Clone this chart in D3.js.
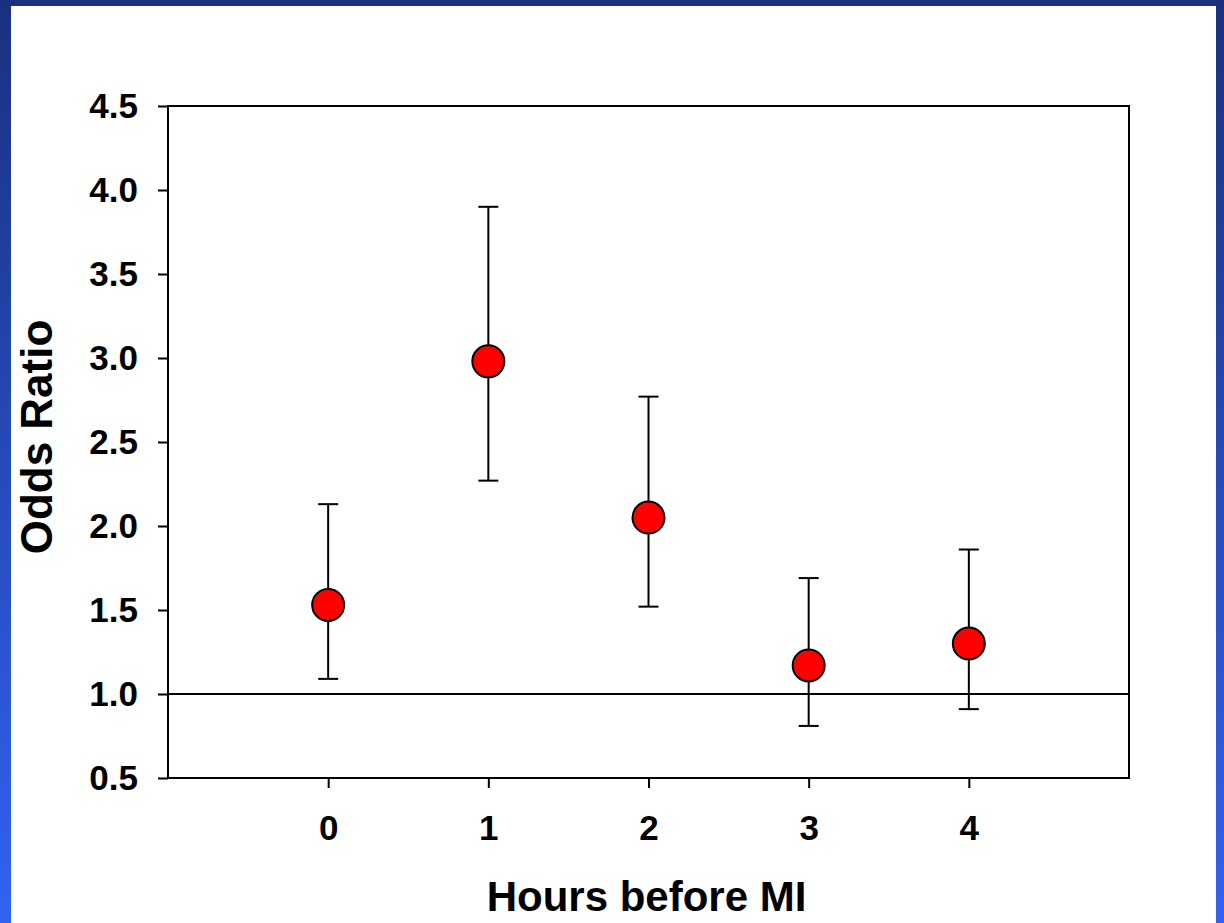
<!DOCTYPE html>
<html>
<head>
<meta charset="utf-8">
<script src="https://cdn.jsdelivr.net/npm/d3@7"></script>
<style>
  html, body { margin: 0; padding: 0; }
  svg { display: block; }
</style>
</head>
<body>
<svg id="chart"></svg>
<script>
// chart data
const hours = [0, 1, 2, 3, 4];
const oddsRatio = [1.53, 2.98, 2.05, 1.17, 1.30];
const upperCI = [2.13, 3.90, 2.77, 1.69, 1.86];
const lowerCI = [1.09, 2.27, 1.52, 0.81, 0.91];
const yTicks = [0.5, 1.0, 1.5, 2.0, 2.5, 3.0, 3.5, 4.0, 4.5];
const xTicks = [0, 1, 2, 3, 4];
const referenceLine = 1.0;

const W = 1224, H = 923;
const margin = { top: 106, right: 95, bottom: 145, left: 168 };
const width = W - margin.left - margin.right;
const height = H - margin.top - margin.bottom;

const root = d3.select("#chart").attr("width", W).attr("height", H);

// blue slide background
const defs = root.append("defs");
const grad = defs.append("linearGradient")
  .attr("id", "bg").attr("x1", 0).attr("y1", 0).attr("x2", 0).attr("y2", 1);
grad.append("stop").attr("offset", "0%").attr("stop-color", "#1a3180");
grad.append("stop").attr("offset", "100%").attr("stop-color", "#3263f2");
root.append("rect").attr("width", W).attr("height", H).attr("fill", "url(#bg)");
root.append("rect")
  .attr("x", 11).attr("y", 6).attr("width", 1205).attr("height", H - 6)
  .attr("fill", "#fff");

const svg = root.append("g")
  .attr("transform", `translate(${margin.left}, ${margin.top})`);

const x = d3.scaleLinear().domain([-1, 5]).range([0, width]);
const y = d3.scaleLinear().domain([0.5, 4.5]).range([height, 0]);

const font = "'Liberation Sans', Arial, sans-serif";

// Y axis
const yAxis = svg.append("g")
  .call(d3.axisLeft(y).tickValues(yTicks).tickFormat(d3.format(".1f"))
    .tickSize(10).tickPadding(20));
yAxis.select(".domain").remove();
yAxis.selectAll("line").attr("stroke", "#000").attr("stroke-width", 2);
yAxis.selectAll("text")
  .style("font-family", font).style("font-size", "35px")
  .style("font-weight", "bold").attr("fill", "#000");

// X axis
const xAxis = svg.append("g")
  .attr("transform", `translate(0, ${height})`)
  .call(d3.axisBottom(x).tickValues(xTicks).tickFormat(d3.format("d"))
    .tickSize(10).tickPadding(27));
xAxis.select(".domain").remove();
xAxis.selectAll("line").attr("stroke", "#000").attr("stroke-width", 2);
xAxis.selectAll("text")
  .style("font-family", font).style("font-size", "35px")
  .style("font-weight", "bold").attr("fill", "#000");

// frame
svg.append("rect")
  .attr("width", width).attr("height", height)
  .attr("fill", "none").attr("stroke", "#000").attr("stroke-width", 2);

// reference line at OR = 1
svg.append("line")
  .attr("x1", 0).attr("x2", width)
  .attr("y1", y(referenceLine)).attr("y2", y(referenceLine))
  .attr("stroke", "#000").attr("stroke-width", 2);

// error bars
const rows = hours.map((h, i) => ({ h, or: oddsRatio[i], hi: upperCI[i], lo: lowerCI[i] }));
const bars = svg.append("g").selectAll("g").data(rows).enter().append("g")
  .attr("stroke", "#000").attr("stroke-width", 2);
bars.append("line")
  .attr("x1", (d) => x(d.h)).attr("x2", (d) => x(d.h))
  .attr("y1", (d) => y(d.hi)).attr("y2", (d) => y(d.lo));
bars.append("line")
  .attr("x1", (d) => x(d.h) - 10).attr("x2", (d) => x(d.h) + 10)
  .attr("y1", (d) => y(d.hi)).attr("y2", (d) => y(d.hi));
bars.append("line")
  .attr("x1", (d) => x(d.h) - 10).attr("x2", (d) => x(d.h) + 10)
  .attr("y1", (d) => y(d.lo)).attr("y2", (d) => y(d.lo));

// points
svg.append("g").selectAll("circle").data(rows).enter().append("circle")
  .attr("cx", (d) => x(d.h)).attr("cy", (d) => y(d.or))
  .attr("r", 16)
  .attr("fill", "#ff0000").attr("stroke", "#000").attr("stroke-width", 2);

// axis titles
root.append("text")
  .attr("x", margin.left + width / 2 - 2).attr("y", 911)
  .attr("text-anchor", "middle")
  .style("font-family", font).style("font-size", "42px").style("font-weight", "bold")
  .text("Hours before MI");

root.append("text")
  .attr("transform", `translate(52, ${margin.top + height / 2 - 5}) rotate(-90)`)
  .attr("text-anchor", "middle")
  .style("font-family", font).style("font-size", "44px").style("font-weight", "bold")
  .text("Odds Ratio");
</script>
</body>
</html>
